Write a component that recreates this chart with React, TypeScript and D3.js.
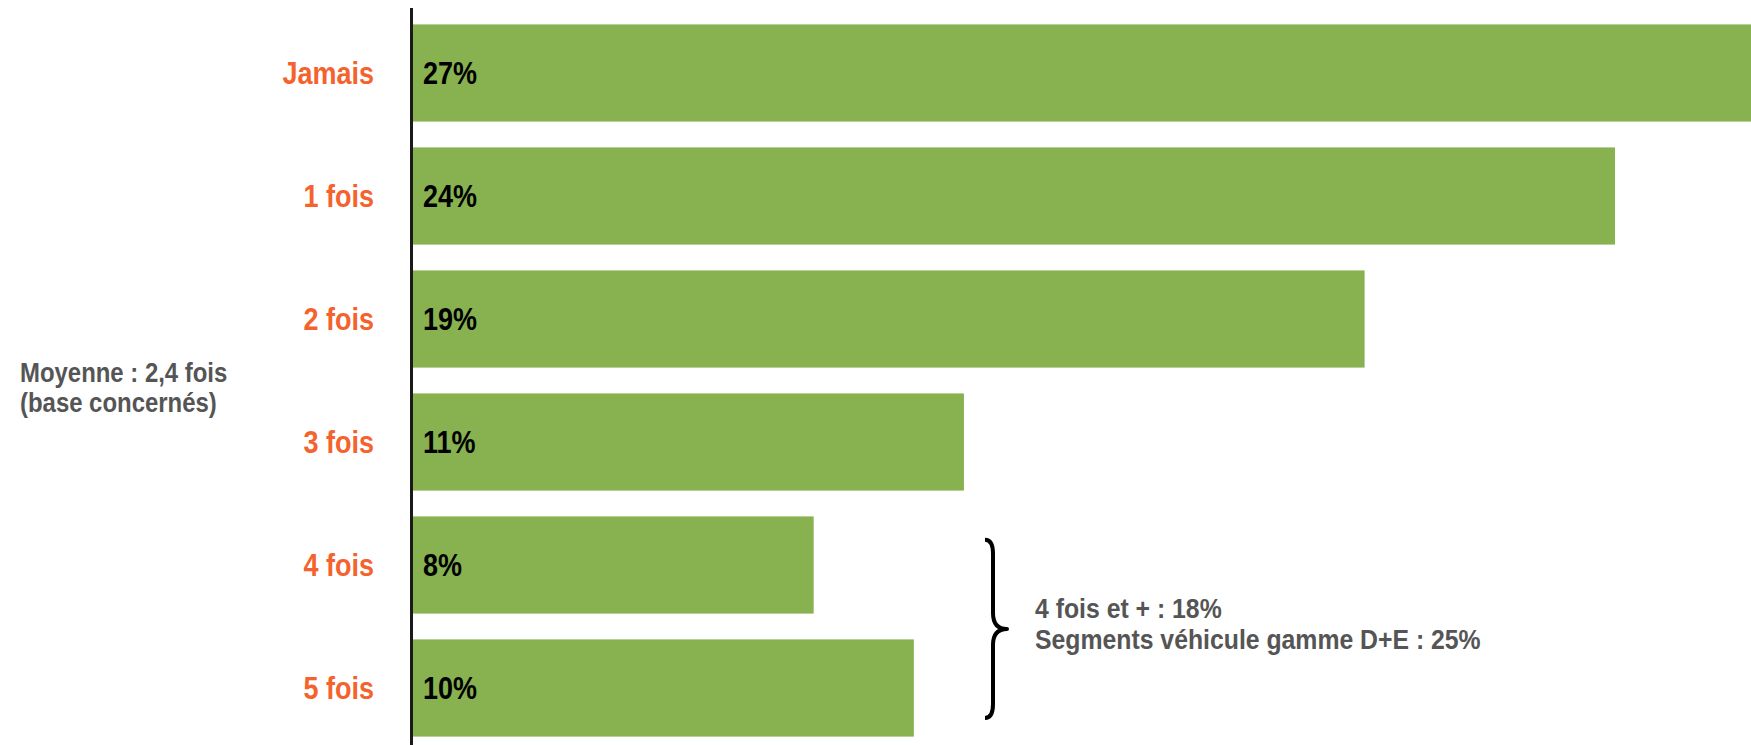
import { useRef, useEffect } from 'react';
import * as d3 from 'd3';

const categories = ['Jamais', '1 fois', '2 fois', '3 fois', '4 fois', '5 fois'];
const values = [27, 24, 19, 11, 8, 10];
const valueLabels = ['27%', '24%', '19%', '11%', '8%', '10%'];
const averageLines = ['Moyenne : 2,4 fois', '(base concernés)'];
const groupLines = ['4 fois et + : 18%', 'Segments véhicule gamme D+E : 25%'];
const groupedCategories = ['4 fois', '5 fois'];

// no condensed font installed, so squeeze Liberation Sans horizontally
const FONT = '"Liberation Sans", Arial, sans-serif';
const SQUEEZE = 0.87;

const App = () => {
    const svgRef = useRef<SVGSVGElement | null>(null);

    useEffect(() => {
        const svgElement = svgRef.current;
        if (!svgElement) return;

        const width = 1751;
        const height = 745;

        const svg = d3.select(svgElement)
            .attr('width', width)
            .attr('height', height);

        svg.selectAll('*').remove();

        // 24% ends at 1615, the first bar runs off the right edge
        const x = d3.scaleLinear()
            .domain([0, 24])
            .range([413, 1615]);

        const y = d3.scaleBand<string>()
            .domain(categories)
            .range([11.5, 749.5])
            .paddingInner(0.21)
            .paddingOuter(0.105);

        const mid = (c: string) => (y(c) as number) + y.bandwidth() / 2;

        svg.selectAll('rect.bar')
            .data(values)
            .enter()
            .append('rect')
            .attr('class', 'bar')
            .attr('x', x(0))
            .attr('y', (_, i) => y(categories[i]) as number)
            .attr('width', d => x(d) - x(0))
            .attr('height', y.bandwidth())
            .attr('fill', '#88B150');

        // axis line
        svg.append('line')
            .attr('x1', x(0) - 1.5)
            .attr('x2', x(0) - 1.5)
            .attr('y1', 8)
            .attr('y2', height)
            .attr('stroke', '#1a1a1a')
            .attr('stroke-width', 3);

        // category labels
        svg.selectAll('text.cat')
            .data(categories)
            .enter()
            .append('text')
            .attr('class', 'cat')
            .attr('transform', d => `translate(374, ${mid(d) + 10.5}) scale(${SQUEEZE}, 1)`)
            .attr('text-anchor', 'end')
            .style('font-family', FONT)
            .style('font-weight', 'bold')
            .style('font-size', '31px')
            .style('fill', '#F4622D')
            .text(d => d);

        // value labels
        svg.selectAll('text.val')
            .data(valueLabels)
            .enter()
            .append('text')
            .attr('class', 'val')
            .attr('transform', (_, i) => `translate(${x(0) + 10}, ${mid(categories[i]) + 10.5}) scale(${SQUEEZE}, 1)`)
            .style('font-family', FONT)
            .style('font-weight', 'bold')
            .style('font-size', '31px')
            .style('fill', '#000')
            .text(d => d);

        // average note
        svg.append('g')
            .selectAll('text')
            .data(averageLines)
            .enter()
            .append('text')
            .attr('transform', (_, i) => `translate(20, ${382 + i * 30}) scale(${SQUEEZE}, 1)`)
            .style('font-family', FONT)
            .style('font-weight', 'bold')
            .style('font-size', '27.5px')
            .style('fill', '#555555')
            .text(d => d);

        // brace for 4 fois + 5 fois
        const top = (y(groupedCategories[0]) as number) + y.bandwidth() * 0.24;
        const bottom = (y(groupedCategories[1]) as number) + y.bandwidth() * 0.81;
        const cusp = (top + bottom) / 2;
        const bx = 993;
        const path = d3.path();
        path.moveTo(bx - 8, top);
        path.quadraticCurveTo(bx, top, bx, top + 14);
        path.lineTo(bx, cusp - 16);
        path.quadraticCurveTo(bx, cusp, bx + 14, cusp);
        path.quadraticCurveTo(bx, cusp, bx, cusp + 16);
        path.lineTo(bx, bottom - 14);
        path.quadraticCurveTo(bx, bottom, bx - 8, bottom);

        svg.append('path')
            .attr('d', path.toString())
            .attr('fill', 'none')
            .attr('stroke', '#000')
            .attr('stroke-width', 4)
            .attr('stroke-linejoin', 'round');

        svg.append('g')
            .selectAll('text')
            .data(groupLines)
            .enter()
            .append('text')
            .attr('transform', (_, i) => `translate(1035, ${cusp - 11 + i * 31}) scale(${SQUEEZE}, 1)`)
            .style('font-family', FONT)
            .style('font-weight', 'bold')
            .style('font-size', '28.5px')
            .style('fill', '#555555')
            .text(d => d);
    }, []);

    return (
        <svg ref={svgRef} style={{ position: 'absolute', left: 0, top: 0, display: 'block', background: '#fff' }}></svg>
    );
};

export default App;
